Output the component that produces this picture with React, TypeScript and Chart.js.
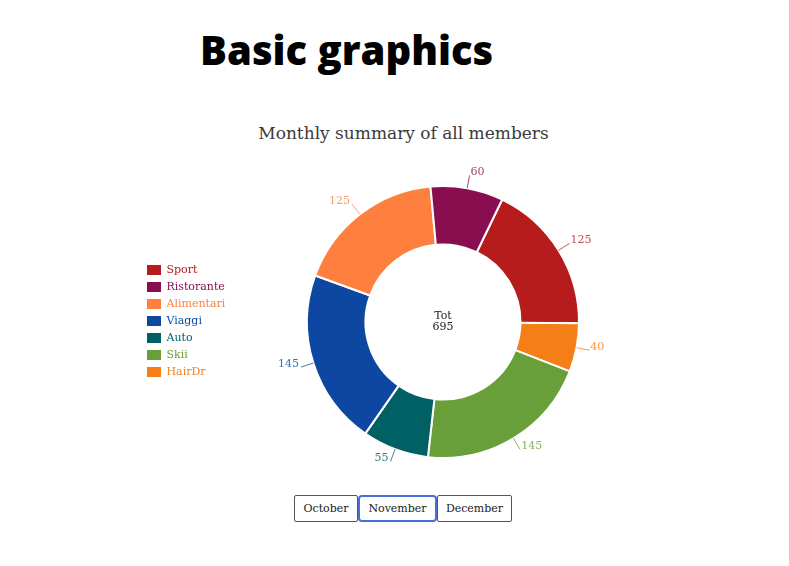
import React, { useEffect, useRef } from "react";
import { Chart, registerables } from "chart.js";

Chart.register(...registerables);

// Slices in drawing order (clockwise, starting at Sport)
const categories = ["Sport", "HairDr", "Skii", "Auto", "Viaggi", "Alimentari", "Ristorante"];
const values = [125, 40, 145, 55, 145, 125, 60];
const colors = ["#b71c1c", "#f57f17", "#689f38", "#006064", "#0d47a1", "#ff7f3f", "#880e4f"];
// Legend order as shown
const legendOrder = ["Sport", "Ristorante", "Alimentari", "Viaggi", "Auto", "Skii", "HairDr"];
const months = ["October", "November", "December"];
const selectedMonth = "November";
const titleText = "Monthly summary of all members";
const centerLabel = "Tot";

const SERIF = "'DejaVu Serif', serif";

const labelPlugin = {
  id: "outLabels",
  afterDatasetsDraw(chart: any) {
    const ctx = chart.ctx;
    const meta = chart.getDatasetMeta(0);
    const ds = chart.data.datasets[0];
    ctx.save();
    meta.data.forEach((arc: any, i: number) => {
      const p = arc.getProps(["x", "y", "startAngle", "endAngle", "outerRadius"], true);
      const mid = (p.startAngle + p.endAngle) / 2;
      const c = Math.cos(mid);
      const s = Math.sin(mid);
      const r0 = p.outerRadius;
      const r1 = p.outerRadius + 13;
      const sx = p.x + c * r0, sy = p.y + s * r0;
      const ex = p.x + c * r1, ey = p.y + s * r1;
      const col = ds.backgroundColor[i];
      ctx.strokeStyle = col;
      ctx.globalAlpha = 0.75;
      ctx.lineWidth = 1;
      ctx.beginPath();
      ctx.moveTo(sx, sy);
      ctx.lineTo(ex, ey);
      ctx.stroke();
      ctx.globalAlpha = 0.8;
      ctx.fillStyle = col;
      ctx.font = `11px ${SERIF}`;
      ctx.textBaseline = "middle";
      if (c >= 0) {
        ctx.textAlign = "left";
        ctx.fillText(String(ds.data[i]), ex + 1, ey - 3);
      } else {
        ctx.textAlign = "right";
        ctx.fillText(String(ds.data[i]), ex - 2, ey - 3);
      }
    });
    // center text
    const total = (ds.data as number[]).reduce((a, b) => a + b, 0);
    const cx = (chart.chartArea.left + chart.chartArea.right) / 2;
    const cy = (chart.chartArea.top + chart.chartArea.bottom) / 2;
    ctx.globalAlpha = 1;
    ctx.fillStyle = "#222";
    ctx.font = `11px ${SERIF}`;
    ctx.textAlign = "center";
    ctx.textBaseline = "middle";
    ctx.fillText(centerLabel, cx, cy - 6);
    ctx.fillText(String(total), cx, cy + 5);
    ctx.restore();
  },
};

export default function App() {
  const ref = useRef<HTMLCanvasElement | null>(null);

  useEffect(() => {
    if (!ref.current) return;
    const chart = new Chart(ref.current, {
      type: "doughnut",
      data: {
        labels: categories,
        datasets: [
          {
            data: values,
            backgroundColor: colors,
            borderColor: "#ffffff",
            borderWidth: 2,
          },
        ],
      },
      options: {
        responsive: false,
        animation: false,
        rotation: 25.8,
        radius: 136,
        cutout: "57%",
        layout: { padding: { left: 123, right: 44, top: 1, bottom: 0 } },
        plugins: {
          tooltip: { enabled: false },
          title: { display: false },
          legend: {
            position: "chartArea" as any,
            align: "center",
            labels: {
              boxWidth: 14,
              boxHeight: 10,
              padding: 6,
              font: { family: SERIF, size: 11 },
              generateLabels: (ch: any) => {
                const base = (Chart as any).overrides.doughnut.plugins.legend.labels.generateLabels(ch);
                return base
                  .map((it: any) => ({ ...it, fontColor: it.fillStyle, lineWidth: 0, strokeStyle: it.fillStyle }))
                  .sort((a: any, b: any) => legendOrder.indexOf(a.text) - legendOrder.indexOf(b.text));
              },
            },
          },
        },
      },
      plugins: [labelPlugin],
    });
    return () => chart.destroy();
  }, []);

  return (
    <div style={{ position: "absolute", left: 0, top: 0, width: 789, height: 566, background: "#fff" }}>
      <div
        style={{
          position: "absolute",
          left: 200,
          top: 30,
          fontFamily: "'Open Sans', sans-serif",
          fontWeight: 800,
          fontSize: 40,
          lineHeight: 1,
          color: "#000",
          whiteSpace: "nowrap",
        }}
      >
        Basic graphics
      </div>
      <div
        style={{
          position: "absolute",
          left: 203.5,
          width: 400,
          top: 122,
          textAlign: "center",
          fontFamily: SERIF,
          fontSize: 17,
          lineHeight: "22px",
          color: "#3a3a3a",
          whiteSpace: "nowrap",
        }}
      >
        {titleText}
      </div>
      <canvas ref={ref} width={771} height={345} style={{ position: "absolute", left: 18, top: 149 }} />
      <div style={{ position: "absolute", left: 294, top: 495, display: "flex" }}>
        {months.map((m) => {
          const sel = m === selectedMonth;
          const w = m === "October" ? 64 : m === "November" ? 79 : 75;
          return (
            <button
              key={m}
              style={{
                width: w,
                height: 27,
                boxSizing: "border-box",
                background: "#fff",
                border: sel ? "2px solid #4a6ed8" : "1px solid #555",
                borderRadius: sel ? 4 : 2,
                fontFamily: SERIF,
                fontSize: 11,
                color: "#222",
                padding: 0,
                margin: 0,
              }}
            >
              {m}
            </button>
          );
        })}
      </div>
    </div>
  );
}
